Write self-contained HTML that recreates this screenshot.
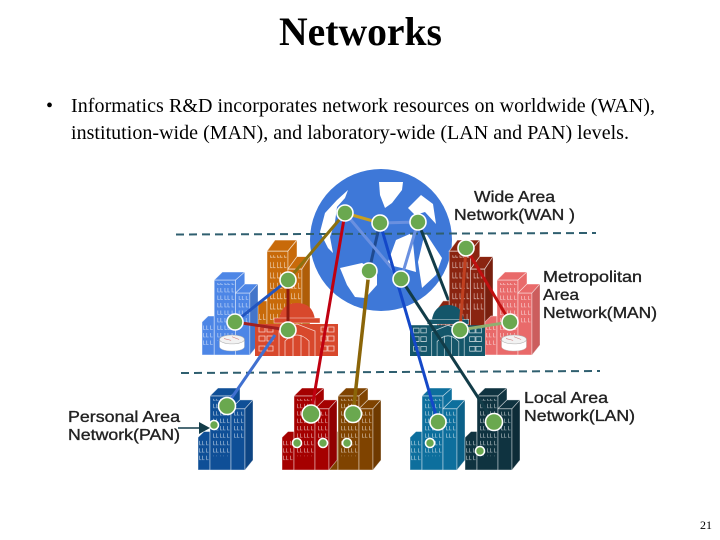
<!DOCTYPE html>
<html><head><meta charset="utf-8"><style>
html,body{margin:0;padding:0;background:#fff;width:720px;height:540px;overflow:hidden}
svg{display:block}
.t{font-family:"Liberation Serif",serif;fill:#000}
.l{font-family:"Liberation Sans",sans-serif;font-size:16px;fill:#222;stroke:#222;stroke-width:.35}
.n{fill:#6aa84f;stroke:#fff;stroke-width:1.6}
</style></head><body>
<svg width="720" height="540" viewBox="0 0 720 540" xmlns="http://www.w3.org/2000/svg">
<defs>
<pattern id="w" width="7" height="7.5" patternUnits="userSpaceOnUse"><path d="M1.5 1v4h2M4.5 1v4h2" fill="none" stroke="#fff" stroke-opacity=".7" stroke-width=".6"/></pattern>
<symbol id="b" viewBox="0 0 55 84" preserveAspectRatio="none" overflow="visible">
<g fill="currentColor" stroke="#fff" stroke-opacity=".6" stroke-width=".7">
<polygon points="0,50 6,44 12,44 12,83 0,83"/>
<rect x="12" y="8" width="21" height="75"/>
<polygon points="12,8 20,0 42,0 33,8"/>
<polygon points="33,8 42,0 42,12 33,21"/>
<rect x="33" y="21" width="14" height="62"/>
<polygon points="33,21 42,12 55,12 47,21"/>
<polygon points="47,21 55,12 55,73 47,83"/>
</g>
<polygon points="47,21 55,12 55,73 47,83" fill="#000" opacity=".12"/>
<rect x="14" y="11" width="18" height="58" fill="url(#w)"/>
<rect x="35" y="24" width="11" height="28" fill="url(#w)"/>
<rect x="1" y="53" width="10" height="22" fill="url(#w)"/>
</symbol>
<symbol id="c" viewBox="0 0 83 53" preserveAspectRatio="none" overflow="visible">
<path d="M24 17Q26 0 42 0Q58 0 60 17Z" fill="currentColor"/>
<rect x="19" y="15" width="46" height="5" fill="currentColor" stroke="#fff" stroke-opacity=".7" stroke-width=".6"/>
<rect x="0" y="21" width="83" height="32" fill="currentColor"/>
<g fill="none" stroke="#fff" stroke-opacity=".75" stroke-width=".8">
<path d="M4 24h6v5h-6zM12 24h6v5h-6zM4 33h6v5h-6zM12 33h6v5h-6zM4 43h6v5h-6zM12 43h6v5h-6zM66 24h6v5h-6zM73 24h6v5h-6zM66 33h6v5h-6zM73 33h6v5h-6zM66 43h6v5h-6zM73 43h6v5h-6z"/>
<path d="M24 53V28L42 21L60 28V53M30 53V38Q42 26 54 38V53M38 53V32M46 53V32"/>
</g>
</symbol>
<symbol id="r" viewBox="0 0 28 18" overflow="visible">
<path d="M0 5v8c0 3 6 5 14 5s14-2 14-5V5z" fill="#fff" stroke="#bbb" stroke-width=".5"/>
<ellipse cx="14" cy="5" rx="14" ry="5" fill="#f2f2f2" stroke="#aaa" stroke-width=".6"/>
<path d="M5 4l8 2M14 2l8 3" stroke="#c77" stroke-width=".6"/>
</symbol>
</defs>

<rect width="720" height="540" fill="#fff"/>
<text class="t" x="279" y="45" font-size="40" font-weight="bold" textLength="163" lengthAdjust="spacingAndGlyphs">Networks</text>
<text class="t" x="46" y="112" font-size="20">•</text>
<text class="t" x="71" y="112" font-size="20" textLength="584">Informatics R&amp;D incorporates network resources on worldwide (WAN),</text>
<text class="t" x="71" y="139" font-size="20" textLength="558">institution-wide (MAN), and laboratory-wide (LAN and PAN) levels.</text>
<text class="t" x="700" y="529" font-size="12">21</text>

<!-- globe -->
<circle cx="381" cy="240" r="71" fill="#3e78d8"/>
<g fill="#fff">
<path d="M379 182L403 182L402 190L392 203L385 208L380 195Z"/>
<path d="M320 232L325 213L337 200L348 190L345 198L337 207L335 222L330 237L333 253L328 248Z"/>
<path d="M340 268L362 263L377 272L377 285L368 295L365 298L355 297L347 285Z"/>
<path d="M388 262L396 240L412 233L416 272L402 268L393 266Z"/>
<path d="M408 208L421 195L433 204L436 224L425 212L415 215Z"/>
<path d="M425 232L442 258L436 275L422 288L418 262Z"/>
</g>

<!-- dashed lines -->
<g stroke="#2f5f6f" stroke-width="2" stroke-dasharray="8 5" fill="none">
<path d="M176 234.500L596 233"/>
<path d="M181 373L600 371"/>
</g>

<!-- upper line that passes behind the buildings -->
<path d="M418 222L460 330" stroke="#123c48" stroke-width="3"/>

<!-- upper buildings -->
<use href="#b" x="255" y="240" width="55" height="116" color="#c86a0a"/>
<use href="#b" x="202" y="272" width="56" height="84" color="#4d86e6"/>
<use href="#c" x="255" y="303" width="83" height="53" color="#d8482c"/>
<use href="#b" x="437" y="240" width="56" height="116" color="#8a2410"/>
<use href="#b" x="485" y="272" width="55" height="84" color="#e96a6a"/>
<use href="#c" x="410" y="305" width="75" height="51" color="#14566a"/>
<use href="#r" x="218" y="335" width="28" height="16"/>
<use href="#r" x="500" y="335" width="28" height="16"/>

<!-- lower buildings -->
<use href="#b" x="198" y="388" width="55" height="83" color="#0f4f97"/>
<use href="#b" x="326" y="388" width="55" height="83" color="#7f4300"/>
<use href="#b" x="282" y="388" width="55" height="83" color="#a50000"/>
<use href="#b" x="410" y="388" width="55" height="83" color="#0d6f9d"/>
<use href="#b" x="465" y="388" width="55" height="83" color="#0f3340"/>

<!-- connectors -->
<g fill="none" stroke-width="3">
<path d="M345 213L311 414" stroke="#c00010"/>
<path d="M369 271L353 414" stroke="#8b6508" stroke-width="3.500"/>
<path d="M345 213L380 223" stroke="#c8a020"/>
<path d="M345 213L288 280" stroke="#8b7010"/>
<path d="M288 280L235 322" stroke="#2255c0"/>
<path d="M288 280L288 330" stroke="#8b1a10"/>
<path d="M235 322L288 330" stroke="#a02020"/>
<path d="M380 223L369 271" stroke="#1f4a90"/>
<path d="M345 213L401 279" stroke="#6a90e0"/>
<path d="M380 223L418 222" stroke="#6a90e0"/>
<path d="M418 222L401 279" stroke="#6a90e0"/>
<path d="M380 223L438 422" stroke="#1448c8"/>
<path d="M401 279L494 422" stroke="#123c48"/>
<path d="M275 335L226 406" stroke="#4070d0"/>
<path d="M466 248L460 330" stroke="#c04020"/>
<path d="M466 248L510 322" stroke="#c01010"/>
<path d="M460 330L510 322" stroke="#90b070"/>
</g>

<!-- nodes -->
<g class="n">
<circle cx="345" cy="213" r="8"/><circle cx="380" cy="223" r="8"/><circle cx="418" cy="222" r="8"/>
<circle cx="369" cy="271" r="8"/><circle cx="401" cy="279" r="8"/><circle cx="466" cy="248" r="8"/>
<circle cx="288" cy="280" r="8"/><circle cx="235" cy="322" r="8"/><circle cx="288" cy="330" r="8"/>
<circle cx="460" cy="330" r="8"/><circle cx="510" cy="322" r="8"/>
<circle cx="227" cy="406" r="8.500"/><circle cx="311" cy="414" r="9"/><circle cx="353" cy="414" r="8.500"/>
<circle cx="438" cy="422" r="8"/><circle cx="494" cy="422" r="8.500"/>
<circle cx="214" cy="425" r="4.500"/><circle cx="297" cy="443" r="4.500"/><circle cx="323" cy="443" r="4.500"/>
<circle cx="347" cy="443" r="4.500"/><circle cx="430" cy="443" r="4.500"/><circle cx="480" cy="451" r="4.500"/>
</g>

<!-- PAN arrow -->
<path d="M178 428H200" stroke="#123c48" stroke-width="1.500"/>
<polygon points="199,422 210,428 199,434" fill="#123c48"/>

<!-- labels -->
<text class="l" x="474" y="202" textLength="81" lengthAdjust="spacingAndGlyphs">Wide Area</text>
<text class="l" x="454" y="220" textLength="121" lengthAdjust="spacingAndGlyphs">Network(WAN )</text>
<text class="l" x="543" y="282" textLength="99" lengthAdjust="spacingAndGlyphs">Metropolitan</text>
<text class="l" x="543" y="300" textLength="36" lengthAdjust="spacingAndGlyphs">Area</text>
<text class="l" x="543" y="318" textLength="114" lengthAdjust="spacingAndGlyphs">Network(MAN)</text>
<text class="l" x="68" y="422" textLength="112" lengthAdjust="spacingAndGlyphs">Personal Area</text>
<text class="l" x="68" y="440" textLength="112" lengthAdjust="spacingAndGlyphs">Network(PAN)</text>
<text class="l" x="524" y="403" textLength="84" lengthAdjust="spacingAndGlyphs">Local Area</text>
<text class="l" x="524" y="421" textLength="111" lengthAdjust="spacingAndGlyphs">Network(LAN)</text>
</svg>
</body></html>
